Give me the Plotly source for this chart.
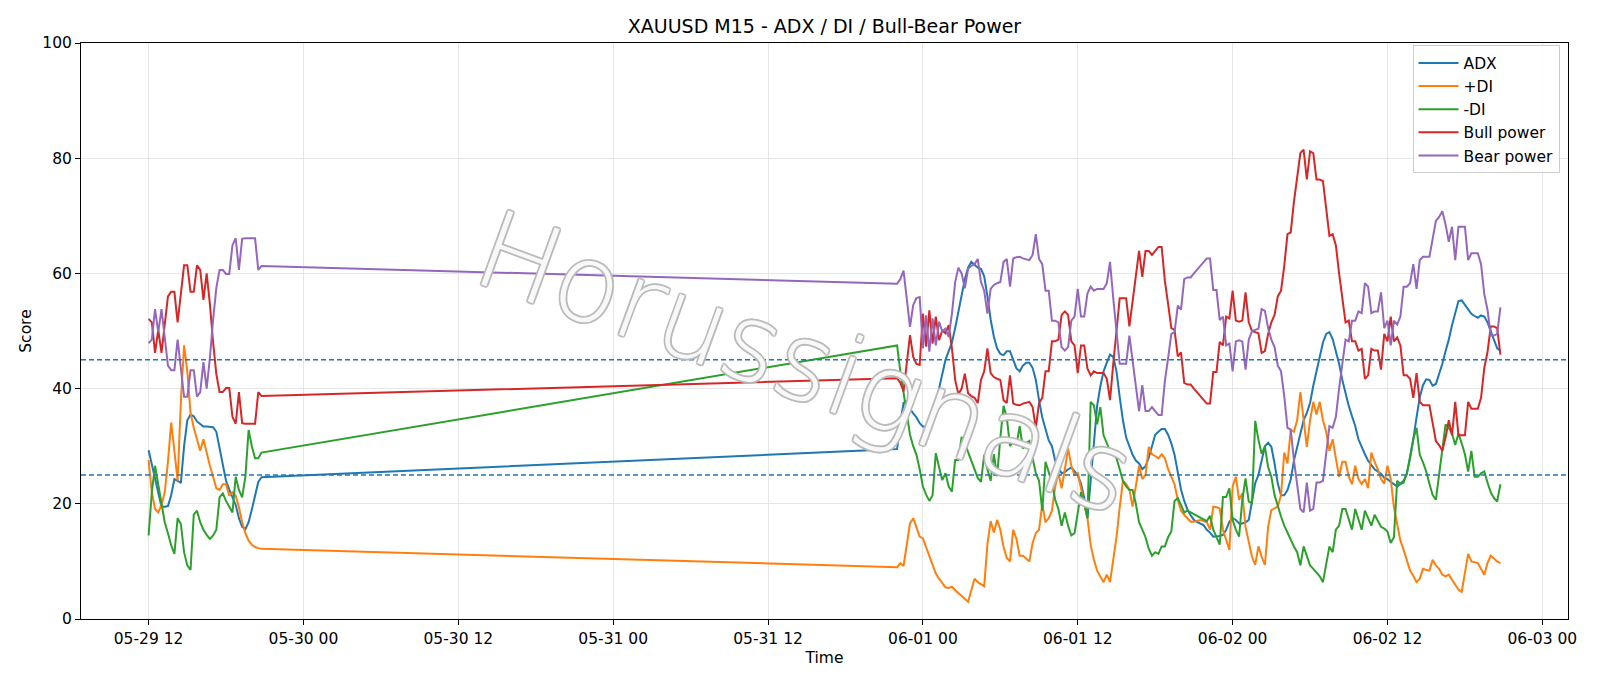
import pandas as pd
import plotly.graph_objects as go

# ---------------- data ----------------
seg1_start = "2020-05-29 12:00"
seg1_len = 36
seg2_start = "2020-05-31 22:00"
seg2_len = 188

adx_1 = [29.3, 26.8, 24.3, 21.8, 19.5, 19.5, 19.6, 21.5, 24.3, 24.0, 23.6, 30.0,
         34.5, 35.5, 35.2, 34.3, 33.8, 33.4, 33.4, 33.4, 33.3, 32.5, 29.5, 26.5,
         24.0, 22.5, 21.0, 19.8, 17.5, 16.0, 15.6, 16.8, 19.0, 21.5, 23.8, 24.6]
adx_2 = [29.5, 34.0, 37.5, 37.8, 36.5, 35.7, 35.0, 34.0, 33.4, 33.4, 33.4, 34.5,
         37.5, 40.0, 42.5, 45.0, 46.5, 48.0, 50.5, 53.2, 56.2, 59.0, 61.0, 62.0,
         61.5, 61.0, 60.8, 59.5, 56.0, 52.0, 49.0, 47.0, 46.0, 45.8, 46.5, 46.5,
         45.0, 43.5, 43.0, 44.0, 44.5, 44.5, 43.6, 41.5, 38.0, 35.0, 33.0, 31.0,
         30.0, 27.5, 26.3, 25.3, 25.5, 26.0, 26.3, 25.6, 25.0, 23.5, 21.0, 17.5,
         24.0, 31.0, 37.0, 40.4, 43.0, 44.5, 45.9, 45.5, 43.0, 38.5, 34.5, 31.5,
         30.0, 28.5, 27.5, 27.0, 26.0, 26.5, 28.0, 30.0, 32.0, 32.5, 33.0, 33.0,
         32.0, 30.5, 28.5, 25.5, 22.5, 20.5, 19.0, 18.0, 17.2, 16.8, 16.5, 16.3,
         15.5, 15.0, 14.3, 14.3, 14.4, 14.6, 15.5, 16.9, 17.5, 17.2, 16.6, 16.6,
         16.8, 17.2, 20.1, 23.6, 25.0, 27.5, 30.0, 30.6, 29.9, 27.0, 23.5, 21.5,
         21.5, 22.4, 24.2, 27.5, 30.0, 32.5, 34.5, 35.8, 37.5, 40.5, 43.0, 45.5,
         48.0, 49.5, 49.8, 48.6, 46.5, 44.3, 41.5, 39.0, 37.0, 35.2, 33.5, 31.2,
         29.8, 28.6, 27.5, 26.7, 26.0, 25.6, 25.2, 24.5, 24.3, 23.8, 23.4, 23.0,
         23.5, 24.0, 25.2, 28.0, 31.2, 35.0, 38.5, 40.6, 41.6, 41.5, 40.5, 40.8,
         42.5, 44.3, 46.5, 48.5, 51.0, 53.0, 55.2, 55.3, 54.5, 53.8, 53.0, 52.6,
         52.3, 52.7, 52.5, 51.5, 50.0, 48.3, 47.0, 46.6]

plus_di_1 = [27.6, 22.0, 19.1, 18.5, 19.8, 22.0, 27.3, 34.1, 29.2, 24.0, 37.7, 47.5,
             43.0, 35.8, 33.2, 31.2, 29.2, 31.2, 28.6, 26.6, 24.7, 22.7, 22.4, 23.4,
             23.4, 21.4, 22.0, 21.4, 19.4, 16.8, 14.9, 13.6, 12.9, 12.5, 12.3, 12.2]
plus_di_2 = [9.0, 9.7, 9.2, 13.2, 16.6, 17.5, 16.0, 14.3, 14.0, 12.5, 11.0, 9.7,
             7.9, 7.0, 6.2, 5.5, 5.4, 5.6, 5.0, 4.5, 3.9, 3.4, 3.0, 5.0,
             7.0, 6.4, 6.0, 5.7, 13.0, 17.0, 15.0, 17.2, 15.5, 12.5, 10.6, 10.0,
             15.5, 13.9, 11.0, 11.0, 10.5, 10.0, 13.2, 14.9, 15.5, 20.0, 16.8, 17.5,
             18.8, 23.0, 25.3, 22.7, 26.0, 29.6, 26.6, 25.0, 25.3, 22.7, 20.0, 17.5,
             12.9, 10.3, 8.4, 7.4, 6.4, 7.7, 6.4, 10.3, 14.2, 19.4, 24.0, 23.4,
             22.5, 19.5, 23.5, 26.6, 24.3, 25.0, 29.9, 28.6, 28.3, 27.9, 28.6, 27.9,
             26.0, 24.7, 23.4, 20.7, 18.8, 18.1, 17.5, 16.9, 16.9, 17.0, 17.2, 17.0,
             16.8, 15.5, 19.5, 19.4, 19.2, 15.5, 13.7, 12.0, 23.0, 24.7, 20.7, 21.8,
             16.0, 13.2, 10.8, 9.4, 12.6, 10.8, 9.4, 16.0, 18.9, 19.2, 19.5, 21.5,
             28.9, 27.0, 32.8, 32.5, 34.5, 39.4, 35.1, 29.9, 34.5, 37.7, 35.5, 37.7,
             34.5, 32.5, 29.2, 31.2, 27.9, 24.7, 27.3, 27.3, 24.7, 23.4, 26.6, 24.3,
             23.4, 24.3, 22.7, 28.9, 27.3, 26.0, 24.3, 23.5, 26.6, 24.3, 19.4, 16.2,
             13.6, 12.0, 10.0, 8.4, 7.5, 6.4, 7.0, 8.7, 8.5, 8.4, 10.3, 9.3,
             8.7, 7.7, 7.4, 7.7, 6.8, 6.0, 5.1, 4.7, 7.7, 11.3, 10.0, 9.9,
             9.7, 8.7, 7.7, 9.7, 11.0, 10.5, 10.0, 9.7]

minus_di_1 = [14.5, 22.0, 26.6, 23.4, 20.0, 16.8, 14.9, 12.8, 11.3, 17.5, 16.5, 11.6,
              9.3, 8.5, 18.1, 18.8, 16.8, 15.5, 14.6, 13.9, 14.5, 15.5, 21.1, 21.8,
              20.5, 19.4, 18.5, 24.7, 22.4, 21.1, 24.7, 32.8, 30.0, 27.9, 27.9, 28.9]
minus_di_2 = [47.5, 43.0, 39.5, 36.0, 32.0, 30.0, 28.5, 26.0, 23.0, 21.6, 20.5, 21.5,
              28.8, 26.4, 24.1, 25.3, 23.0, 22.1, 27.6, 27.6, 31.6, 30.5, 29.0, 27.5,
              26.0, 24.5, 23.8, 28.5, 26.0, 24.0, 28.6, 24.8, 31.5, 37.0, 35.0, 30.0,
              30.9, 30.2, 33.5, 29.6, 30.5, 30.9, 27.9, 25.3, 24.0, 18.8, 27.3, 25.3,
              23.7, 20.7, 19.1, 16.2, 18.5, 16.2, 14.5, 14.9, 18.8, 22.0, 20.0, 17.5,
              37.7, 37.1, 33.8, 36.8, 31.9, 30.5, 29.2, 28.9, 27.9, 26.0, 24.0, 23.0,
              22.4, 22.4, 20.0, 16.8, 15.5, 14.2, 12.2, 11.0, 11.6, 11.3, 12.6, 12.6,
              14.2, 15.2, 20.5, 21.0, 19.8, 18.5, 18.8, 18.5, 18.1, 17.8, 17.5, 17.3,
              17.0, 17.9, 15.5, 14.2, 12.9, 21.2, 21.2, 22.7, 17.2, 15.5, 14.3, 20.7,
              24.4, 20.4, 20.1, 34.4, 31.1, 28.7, 29.9, 26.4, 24.7, 21.5, 19.5, 17.8,
              16.2, 14.9, 13.6, 12.6, 11.6, 9.3, 12.6, 11.0, 9.3, 8.7, 8.0, 7.4,
              6.4, 9.7, 12.6, 11.6, 15.5, 16.2, 19.1, 19.1, 17.2, 15.5, 19.1, 17.5,
              15.5, 18.8, 17.5, 16.2, 18.1, 17.0, 16.0, 15.7, 15.2, 13.2, 14.2, 24.0,
              23.4, 23.7, 25.3, 27.9, 31.2, 33.2, 28.5, 27.2, 25.6, 23.5, 21.5, 20.7,
              25.0, 29.2, 33.8, 33.2, 32.2, 30.2, 32.2, 30.5, 28.6, 25.6, 29.2, 24.7,
              24.7, 25.3, 25.6, 23.7, 22.0, 21.0, 20.4, 23.4]

bull_1 = [52.1, 51.5, 46.2, 50.2, 46.2, 50.8, 56.0, 56.8, 56.8, 51.5, 56.0, 61.4,
          61.4, 56.8, 56.8, 61.4, 60.6, 55.4, 60.0, 54.7, 48.0, 42.5, 39.4, 39.4,
          40.1, 40.1, 35.1, 33.9, 39.4, 34.0, 33.9, 33.9, 33.9, 33.9, 39.4, 38.7]
bull_2 = [41.8, 41.0, 39.5, 44.5, 49.3, 45.5, 44.3, 44.1, 53.0, 47.3, 53.6, 47.8,
          52.5, 48.4, 50.1, 49.6, 51.0, 47.0, 41.5, 39.0, 40.0, 42.6, 39.2, 38.7,
          38.4, 37.5, 41.5, 43.0, 47.0, 42.7, 42.0, 41.7, 41.5, 38.0, 37.5, 42.3,
          37.4, 37.2, 37.1, 37.4, 37.6, 37.7, 36.8, 33.2, 37.5, 38.4, 43.0, 43.0,
          48.2, 48.2, 48.5, 52.8, 53.4, 52.8, 48.2, 47.5, 42.7, 47.5, 47.5, 43.5,
          42.3, 43.0, 42.7, 42.7, 42.7, 41.7, 38.0, 44.3, 50.2, 55.7, 55.7, 55.7,
          50.8, 55.4, 60.0, 63.9, 59.4, 63.9, 63.9, 63.2, 63.9, 64.6, 64.6, 58.7,
          54.7, 50.5, 50.2, 45.6, 46.3, 41.0, 40.7, 40.7, 40.0, 39.3, 38.6, 38.0,
          37.4, 37.4, 42.9, 42.9, 48.1, 47.5, 52.5, 52.2, 57.0, 51.8, 51.6, 51.8,
          56.7, 51.5, 50.0, 49.8, 49.6, 46.2, 46.5, 49.5, 51.5, 52.8, 56.0, 57.0,
          61.3, 66.8, 67.1, 72.4, 76.9, 80.9, 81.5, 76.3, 81.2, 80.9, 76.3, 76.3,
          76.0, 71.1, 66.5, 66.8, 64.9, 60.0, 55.4, 51.5, 51.8, 48.2, 48.2, 46.6,
          46.9, 41.7, 42.3, 46.9, 46.6, 46.6, 43.3, 49.5, 48.2, 52.5, 48.2, 48.9,
          47.5, 42.3, 42.3, 41.7, 38.4, 42.7, 37.7, 37.1, 37.1, 37.1, 34.0, 30.9,
          30.2, 29.2, 31.5, 34.5, 31.9, 37.7, 31.9, 31.9, 31.9, 37.7, 36.5, 36.5,
          36.5, 38.4, 43.6, 46.3, 50.8, 50.8, 50.5, 45.9]

bear_1 = [47.9, 48.5, 53.8, 49.8, 53.8, 49.2, 44.0, 43.2, 43.2, 48.5, 44.0, 38.6,
          38.6, 43.2, 43.2, 38.6, 39.4, 44.6, 40.0, 45.3, 52.0, 57.5, 60.6, 60.6,
          59.9, 59.9, 64.9, 66.1, 60.6, 66.0, 66.1, 66.1, 66.1, 66.1, 60.6, 61.3]
bear_2 = [58.2, 59.0, 60.5, 55.5, 50.7, 54.5, 55.7, 55.9, 47.0, 52.7, 46.4, 52.2,
          47.5, 51.6, 49.9, 50.4, 49.0, 53.0, 58.5, 61.0, 60.0, 57.4, 60.8, 61.3,
          61.6, 62.5, 58.5, 57.0, 53.0, 57.3, 58.0, 58.3, 58.5, 62.0, 62.5, 57.7,
          62.6, 62.8, 62.9, 62.6, 62.4, 62.3, 63.2, 66.8, 62.5, 61.6, 57.0, 57.0,
          51.8, 51.8, 51.5, 47.2, 46.6, 47.2, 51.8, 52.5, 57.3, 52.5, 52.5, 56.5,
          57.7, 57.0, 57.3, 57.3, 57.3, 58.3, 62.0, 55.7, 49.8, 44.3, 44.3, 44.3,
          49.2, 44.6, 40.0, 36.1, 40.6, 36.1, 36.1, 36.8, 36.1, 35.4, 35.4, 41.3,
          45.3, 49.5, 49.8, 54.4, 53.7, 59.0, 59.3, 59.3, 60.0, 60.7, 61.4, 62.0,
          62.6, 62.6, 57.1, 57.1, 51.9, 52.5, 47.5, 47.8, 43.0, 48.2, 48.4, 48.2,
          43.3, 48.5, 50.0, 50.2, 50.4, 53.8, 53.5, 50.5, 48.5, 47.2, 44.0, 43.0,
          38.7, 33.2, 32.9, 27.6, 23.1, 19.1, 18.5, 23.7, 18.8, 19.1, 23.7, 23.7,
          24.0, 28.9, 33.5, 33.2, 35.1, 40.0, 44.6, 48.5, 48.2, 51.8, 51.8, 53.4,
          53.1, 58.3, 57.7, 53.1, 53.4, 53.4, 56.7, 50.5, 51.8, 47.5, 51.8, 51.1,
          52.5, 57.7, 57.7, 58.3, 61.6, 57.3, 62.3, 62.9, 62.9, 62.9, 66.0, 69.1,
          69.8, 70.8, 68.5, 65.5, 68.1, 62.3, 68.1, 68.1, 68.1, 62.3, 63.5, 63.5,
          63.5, 61.6, 56.4, 53.7, 49.2, 49.2, 49.5, 54.1]

thresholds = [45, 25]
series_names = ["ADX", "+DI", "-DI", "Bull power", "Bear power"]
series_colors = ["#1f77b4", "#ff7f0e", "#2ca02c", "#d62728", "#9467bd"]

# ---------------- build figure ----------------
times = pd.date_range(seg1_start, periods=seg1_len, freq="15min").append(
    pd.date_range(seg2_start, periods=seg2_len, freq="15min"))
series_values = [adx_1 + adx_2, plus_di_1 + plus_di_2, minus_di_1 + minus_di_2,
                 bull_1 + bull_2, bear_1 + bear_2]

FONT = "DejaVu Sans"
FS = 15.5
fig = go.Figure()

for name, color, vals in zip(series_names, series_colors, series_values):
    fig.add_trace(go.Scatter(x=times, y=vals, mode="lines", name=name,
                             legendgroup=name,
                             line=dict(color=color, width=2)))

for t in thresholds:
    fig.add_hline(y=t, line=dict(color="#1f77b4", width=1.4, dash="5px,3px"))

wm_gray = "rgba(185,185,185,0.9)"
wm_shadow = ", ".join(f"{dx}px {dy}px 0 {wm_gray}" for dx, dy in
                      [(1.8, 0), (-1.8, 0), (0, 1.8), (0, -1.8),
                       (1.3, 1.3), (-1.3, -1.3), (1.3, -1.3), (-1.3, 1.3)])
fig.add_annotation(text="Horussignals", xref="paper", yref="paper",
                   x=0.487, y=0.445, showarrow=False, textangle=20,
                   font=dict(family=FONT, size=108, color="rgba(255,255,255,0.9)",
                             weight=200, shadow=wm_shadow))

axis_common = dict(showline=True, linecolor="black", linewidth=1, mirror=True,
                   ticks="outside", ticklen=5, tickcolor="black", tickwidth=1,
                   showgrid=True, gridcolor="#e6e6e6", gridwidth=1,
                   zeroline=False, automargin=False,
                   tickfont=dict(family=FONT, size=FS, color="black"))

fig.update_layout(
    width=1600, height=686,
    margin=dict(l=81, r=32, t=43, b=67),
    paper_bgcolor="white", plot_bgcolor="white",
    title=dict(text="XAUUSD M15 - ADX / DI / Bull-Bear Power",
               x=0.5, xref="paper", xanchor="center",
               y=1 - 26 / 686, yref="container", yanchor="middle",
               font=dict(family=FONT, size=19, color="black")),
    xaxis=dict(type="date",
               range=["2020-05-29 06:45:45", "2020-06-03 01:59:15"],
               tickformat="%m-%d %H", dtick=43200000, tick0="2020-05-29 00:00",
               title=dict(text="Time", standoff=5,
                          font=dict(family=FONT, size=FS, color="black")),
               **axis_common),
    yaxis=dict(range=[0, 100], dtick=20, tick0=0,
               title=dict(text="Score", standoff=6,
                          font=dict(family=FONT, size=FS, color="black")),
               **axis_common),
    legend=dict(x=0.9943, xanchor="right", y=0.996, yanchor="top",
                bgcolor="rgba(255,255,255,0.85)", bordercolor="#cccccc",
                borderwidth=1, tracegroupgap=0, itemwidth=40,
                font=dict(family=FONT, size=FS, color="black")),
    showlegend=True,
)

fig.write_html("out.html")
